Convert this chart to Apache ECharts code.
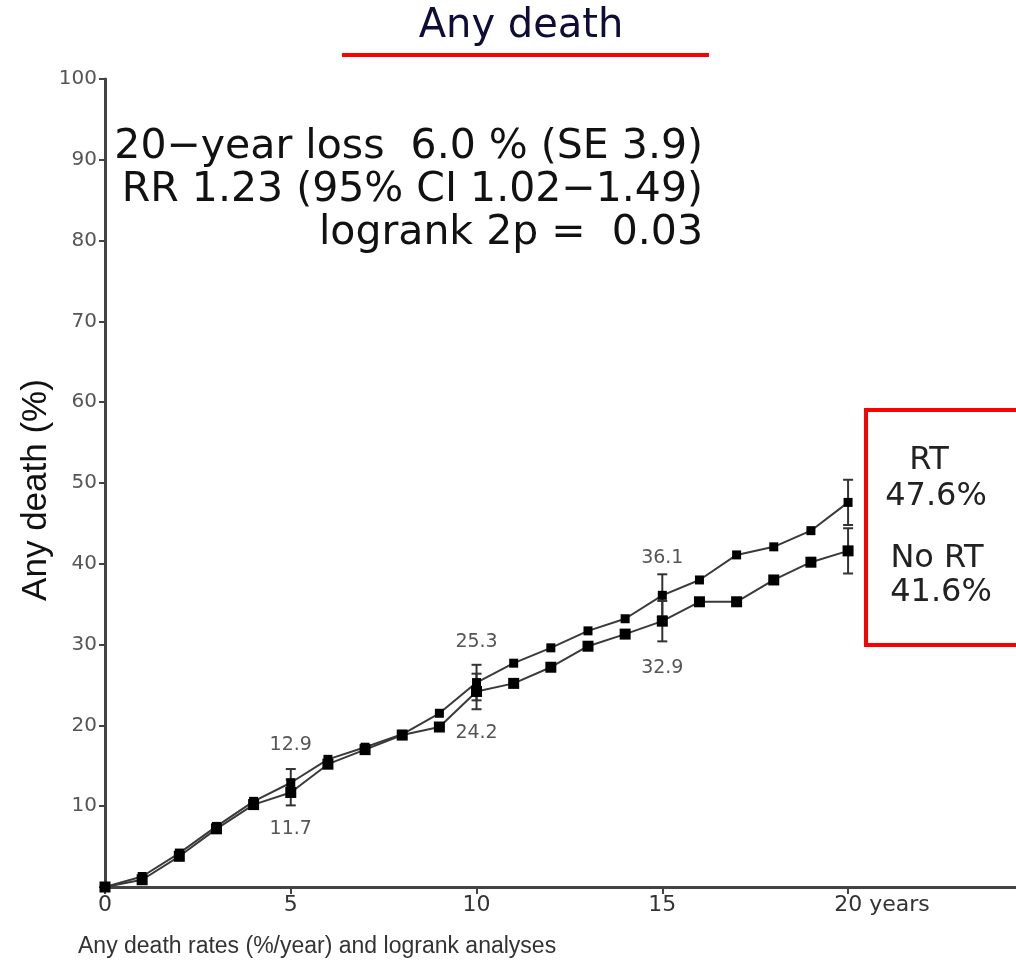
<!DOCTYPE html>
<html>
<head>
<meta charset="utf-8">
<title>Any death</title>
<script src="https://cdn.jsdelivr.net/npm/echarts@6/dist/echarts.min.js"></script>
<style>
  html, body { margin: 0; padding: 0; background: #fff; }
  #chart { width: 1016px; height: 961px; }
</style>
</head>
<body>
<div id="chart"></div>
<script>
// Years of follow-up
const years = [0,1,2,3,4,5,6,7,8,9,10,11,12,13,14,15,16,17,18,19,20];
// Cumulative any-death risk (%)
const rtValues   = [0,1.3,4.2,7.5,10.6,12.9,15.8,17.3,18.9,21.5,25.3,27.7,29.6,31.7,33.2,36.1,38.0,41.1,42.1,44.1,47.6];
const noRtValues = [0,0.9,3.8,7.2,10.2,11.7,15.2,17.0,18.8,19.8,24.2,25.2,27.2,29.8,31.3,32.9,35.3,35.3,38.0,40.2,41.6];
// Standard errors at 5-year marks
const seYears  = [5, 10, 15, 20];
const rtSE     = [1.7, 2.2, 2.6, 2.8];
const noRtSE   = [1.6, 2.2, 2.5, 2.8];
// Years whose values are printed beside the markers
const labelledYears = [5, 10, 15];
const xTicks = [0, 5, 10, 15, 20];
const yTicks = [10,20,30,40,50,60,70,80,90,100];

const statLines = ['20\u2212year loss  6.0 % (SE 3.9)', 'RR 1.23 (95% CI 1.02\u22121.49)', 'logrank 2p =  0.03'];

const lineColor = '#3a3a3a';
const font = '"DejaVu Sans", Verdana, sans-serif';
const arial = '"Liberation Sans", Arial, sans-serif';

// label gaps (px) between marker and printed value, per labelled year
const rtLabelGap   = { 5: 24, 10: 27, 15: 23 };
const noRtLabelGap = { 5: 22, 10: 27, 15: 32 };

function seriesData(vals, above, gaps) {
  return years.map((y, i) => {
    const item = { value: [y, vals[i]] };
    if (labelledYears.includes(y)) {
      item.label = {
        show: true,
        position: above ? 'top' : 'bottom',
        distance: gaps[y],
        formatter: vals[i].toFixed(1),
        color: '#555',
        fontSize: 19,
        fontFamily: font
      };
    }
    return item;
  });
}

function errData(vals, se) {
  return seYears.map((y, i) => {
    const v = vals[years.indexOf(y)];
    return [y, v - se[i], v + se[i]];
  });
}

function renderErr(params, api) {
  const x = api.value(0);
  const lo = api.coord([x, api.value(1)]);
  const hi = api.coord([x, api.value(2)]);
  const cap = 5;
  const style = { stroke: '#333', lineWidth: 2 };
  return {
    type: 'group',
    children: [
      { type: 'line', shape: { x1: lo[0], y1: lo[1], x2: hi[0], y2: hi[1] }, style },
      { type: 'line', shape: { x1: lo[0]-cap, y1: lo[1], x2: lo[0]+cap, y2: lo[1] }, style },
      { type: 'line', shape: { x1: hi[0]-cap, y1: hi[1], x2: hi[0]+cap, y2: hi[1] }, style }
    ]
  };
}

const chart = echarts.init(document.getElementById('chart'));
chart.setOption({
  animation: false,
  backgroundColor: '#fff',
  grid: { left: 105, top: 79, bottom: 74, right: 0, containLabel: false },
  xAxis: {
    type: 'value', min: 0, max: 24.52,
    axisLine: { lineStyle: { color: '#444', width: 3 } },
    axisTick: { show: true, length: 7, customValues: xTicks, lineStyle: { color: '#444', width: 2 } },
    splitLine: { show: false },
    axisLabel: {
      margin: 7,
      customValues: xTicks,
      color: '#333',
      fontSize: 22,
      fontFamily: font,
      formatter: v => (v === 20 ? '{pad|}{n|20 years}' : '{n|' + v + '}'),
      rich: {
        n: { fontSize: 22, fontFamily: font, color: '#333' },
        pad: { width: 68 }
      }
    }
  },
  yAxis: {
    type: 'value', min: 0, max: 100, interval: 10,
    axisLine: { show: true, lineStyle: { color: '#444', width: 3 } },
    axisTick: { show: true, length: 6, lineStyle: { color: '#444', width: 2 } },
    splitLine: { show: false },
    axisLabel: {
      margin: 8,
      color: '#555',
      fontSize: 20,
      fontFamily: font,
      formatter: v => (yTicks.includes(v) ? String(v) : '')
    }
  },
  series: [
    {
      name: 'RT', type: 'line', data: seriesData(rtValues, true, rtLabelGap),
      symbol: 'rect', symbolSize: 9, z: 3,
      itemStyle: { color: '#000' },
      lineStyle: { color: lineColor, width: 2 }
    },
    {
      name: 'No RT', type: 'line', data: seriesData(noRtValues, false, noRtLabelGap),
      symbol: 'rect', symbolSize: 11, z: 3,
      itemStyle: { color: '#000' },
      lineStyle: { color: lineColor, width: 2 }
    },
    { type: 'custom', renderItem: renderErr, data: errData(rtValues, rtSE), z: 2 },
    { type: 'custom', renderItem: renderErr, data: errData(noRtValues, noRtSE), z: 2 }
  ],
  graphic: [
    {
      type: 'text', x: 521, y: 27,
      style: { text: 'Any death', textAlign: 'center', textVerticalAlign: 'middle', fontSize: 40, fontFamily: font, fill: '#0d0d38' }
    },
    { type: 'rect', shape: { x: 342, y: 53, width: 367, height: 4 }, style: { fill: '#ff0000' } },
    {
      type: 'text', x: 703, y: 147,
      style: { text: statLines[0], textAlign: 'right', textVerticalAlign: 'middle', fontSize: 41, fontFamily: font, fill: '#111' }
    },
    {
      type: 'text', x: 703, y: 190,
      style: { text: statLines[1], textAlign: 'right', textVerticalAlign: 'middle', fontSize: 41, fontFamily: font, fill: '#111' }
    },
    {
      type: 'text', x: 703, y: 233,
      style: { text: statLines[2], textAlign: 'right', textVerticalAlign: 'middle', fontSize: 41, fontFamily: font, fill: '#111' }
    },
    {
      type: 'text', x: 36, y: 490, rotation: Math.PI / 2,
      style: { text: 'Any death (%)', textAlign: 'center', textVerticalAlign: 'middle', fontSize: 35, fontFamily: arial, fill: '#111' }
    },
    { type: 'rect', shape: { x: 866, y: 410, width: 170, height: 235 }, style: { fill: 'none', stroke: '#ff0000', lineWidth: 4 } },
    { type: 'text', x: 929, y: 461, style: { text: 'RT', textAlign: 'center', textVerticalAlign: 'middle', fontSize: 32, fontFamily: font, fill: '#222' } },
    { type: 'text', x: 936, y: 497, style: { text: '47.6%', textAlign: 'center', textVerticalAlign: 'middle', fontSize: 32, fontFamily: font, fill: '#222' } },
    { type: 'text', x: 937, y: 559, style: { text: 'No RT', textAlign: 'center', textVerticalAlign: 'middle', fontSize: 32, fontFamily: font, fill: '#222' } },
    { type: 'text', x: 941, y: 593, style: { text: '41.6%', textAlign: 'center', textVerticalAlign: 'middle', fontSize: 32, fontFamily: font, fill: '#222' } },
    {
      type: 'text', x: 78, y: 947,
      style: { text: 'Any death rates (%/year) and logrank analyses', textVerticalAlign: 'middle', fontSize: 23, fontFamily: arial, fill: '#333' }
    }
  ]
});
</script>
</body>
</html>
